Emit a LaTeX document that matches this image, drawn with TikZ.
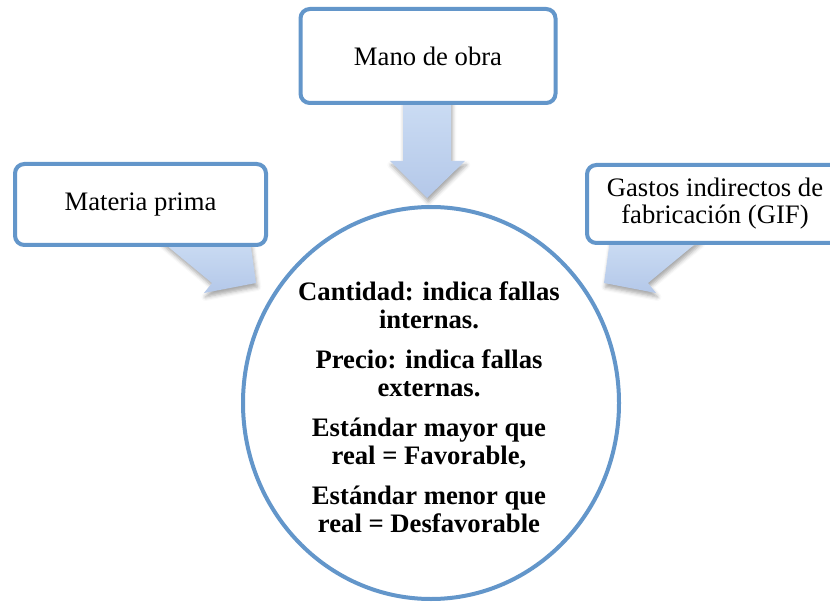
\documentclass[tikz,border=0pt]{standalone}
\usepackage{fontspec}
\setmainfont{Liberation Serif}
\usetikzlibrary{shapes.geometric,shadows.blur}
\definecolor{edgeblue}{RGB}{99,150,202}
\definecolor{arrtop}{RGB}{203,220,243}
\definecolor{arrbot}{RGB}{180,200,233}
\begin{document}
\begin{tikzpicture}[x=0.75pt,y=-0.75pt,
  box/.style={draw=edgeblue, line width=3pt, rounded corners=7pt, fill=white,
    inner sep=0pt, font=\fontsize{20}{20.25}\selectfont, align=center},
  blockarrow/.style={top color=arrtop, bottom color=arrbot, draw=none,
    blur shadow={shadow xshift=1pt, shadow yshift=-3pt, shadow blur radius=3pt, shadow opacity=35}},
  hub/.style={ellipse, draw=edgeblue, line width=3pt, fill=white, inner sep=0pt,
    minimum width=282pt, minimum height=294pt},
  hubtext/.style={font=\bfseries\fontsize{20}{21}\selectfont, align=center, inner sep=0pt}]
\useasboundingbox (0,0) rectangle (830,605);
\clip (0,0) rectangle (830,605);
% arrows
\path[blockarrow] (403,100) -- (451,100) -- (451,161) -- (465,161) -- (427,198) -- (390,161) -- (403,161) -- cycle;
\path[blockarrow] (160,240) -- (212,283) -- (204,293) -- (256,283) -- (250,240) -- cycle;
\path[blockarrow] (700,240) -- (648,283) -- (656,293) -- (604,283) -- (610,240) -- cycle;
% boxes
\node[box, minimum width=191.25pt, minimum height=70.5pt] (mano) at (428,56) {Mano de obra};
\node[box, minimum width=188.25pt, minimum height=60.75pt] (materia) at (140.5,204.5) {Materia prima};
\node[box, minimum width=192pt, minimum height=58.5pt] (gif) at (715,204) {Gastos indirectos de\\fabricación (GIF)};
% hub
\node[hub] (centro) at (431,403) {};
\node[hubtext] (texto) at (429,407) {Cantidad: indica fallas\\internas.\\[9pt]
Precio: indica fallas\\externas.\\[9pt]
Estándar mayor que\\real = Favorable,\\[9pt]
Estándar menor que\\real = Desfavorable};
\end{tikzpicture}
\end{document}
